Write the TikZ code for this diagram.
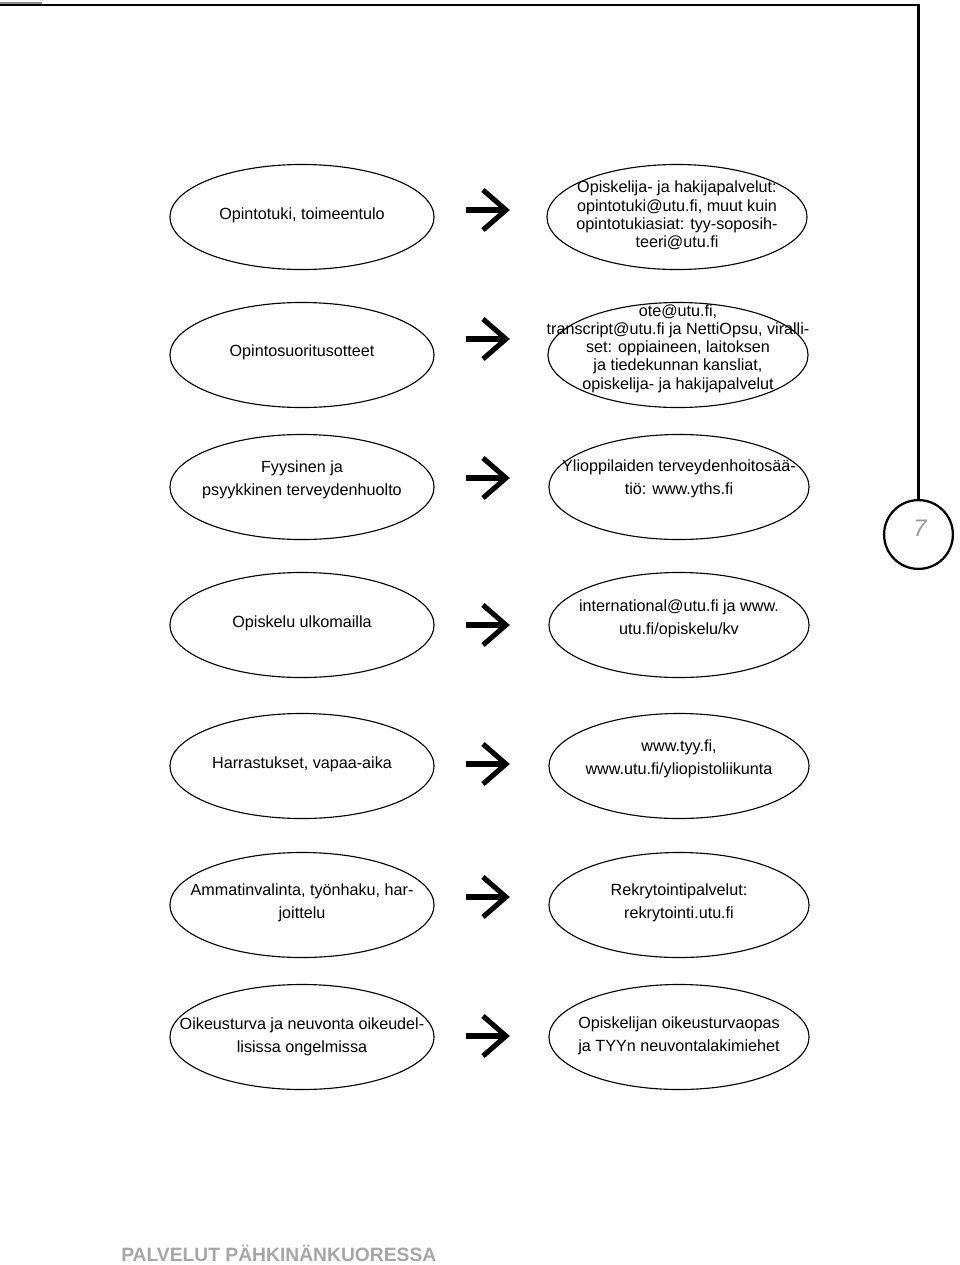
\documentclass[tikz,border=0pt]{standalone}
\usepackage{fontspec}
\setmainfont{Liberation Sans}
\usetikzlibrary{positioning,arrows.meta,shapes.geometric}

\tikzset{
  oval/.style={draw, ellipse, line width=0.8pt, inner sep=0pt,
    minimum width=6.6cm, minimum height=2.625cm},
  ovalr/.style={oval, minimum width=6.5cm},
  txt/.style={align=center, font=\fontsize{11.5}{16}\selectfont},
  txttight/.style={align=center, font=\fontsize{11.5}{13}\selectfont},
  pilvarsi/.style={line width=4.4pt},
  pilkarki/.style={line width=3.6pt, miter limit=10},
}

\begin{document}
\begin{tikzpicture}[x=0.025cm, y=-0.025cm]
  \useasboundingbox (0,0) rectangle (960,1265);
  % frame and page number
  \draw[black!45, line width=2pt] (0,3) -- (42,3);
  \coordinate (hjorne) at (0,5);
  \node[circle, draw, line width=1.6pt, minimum size=1.72cm, inner sep=0pt]
    (sivu) at (918.5,534.5) {};
  \draw[line width=1.5pt] (hjorne) -| (sivu);
  \node[text=black!40, font=\fontsize{17}{17}\selectfont\itshape] (nro)
    at (920,528) {7};
  % row 1
  \node[oval] (v1) at (302,217) {};
  \node[txt] (v1t) at (302,215) {Opintotuki, toimeentulo};
  \node[ovalr] (o1) at (677,217) {};
  \node[txttight] (o1t) at (677,215.5) {Opiskelija- ja hakijapalvelut:\\
    opintotuki@utu.fi, muut kuin\\ opintotukiasiat: tyy-soposih-\\ teeri@utu.fi};
  % row 2
  \node[oval] (v2) at (302,355) {};
  \node[txt] (v2t) at (302,352) {Opintosuoritusotteet};
  \node[ovalr] (o2) at (678,355) {};
  \node[txttight] (o2t) at (678,348.5) {ote@utu.fi,\\
    transcript@utu.fi ja NettiOpsu, viralli-\\ set: oppiaineen, laitoksen\\
    ja tiedekunnan kansliat,\\ opiskelija- ja hakijapalvelut};
  % row 3
  \node[oval] (v3) at (302,487) {};
  \node[txt] (v3t) at (302,480) {Fyysinen ja\\ psyykkinen terveydenhuolto};
  \node[ovalr] (o3) at (679,487) {};
  \node[txt] (o3t) at (679,479) {Ylioppilaiden terveydenhoitosää-\\ tiö: www.yths.fi};
  % row 4
  \node[oval] (v4) at (302,625) {};
  \node[txt] (v4t) at (302,623) {Opiskelu ulkomailla};
  \node[ovalr] (o4) at (679,625) {};
  \node[txt] (o4t) at (679,619) {international@utu.fi ja www.\\ utu.fi/opiskelu/kv};
  % row 5
  \node[oval] (v5) at (302,766) {};
  \node[txt] (v5t) at (302,764) {Harrastukset, vapaa-aika};
  \node[ovalr] (o5) at (679,766) {};
  \node[txt] (o5t) at (679,759) {www.tyy.fi,\\ www.utu.fi/yliopistoliikunta};
  % row 6
  \node[oval] (v6) at (302,905) {};
  \node[txt] (v6t) at (302,903) {Ammatinvalinta, työnhaku, har-\\ joittelu};
  \node[ovalr] (o6) at (679,905) {};
  \node[txt] (o6t) at (679,903) {Rekrytointipalvelut:\\ rekrytointi.utu.fi};
  % row 7
  \node[oval] (v7) at (302,1037) {};
  \node[txt] (v7t) at (302,1037) {Oikeusturva ja neuvonta oikeudel-\\ lisissa ongelmissa};
  \node[ovalr] (o7) at (679,1037) {};
  \node[txt] (o7t) at (679,1036) {Opiskelijan oikeusturvaopas\\ ja TYYn neuvontalakimiehet};
  % arrows
  \foreach \y [count=\i] in {210,339,478,625,764,897,1036} {
    \coordinate (a\i) at (466,\y);
    \coordinate (b\i) at (506,\y);
    \draw[pilvarsi] (a\i) -- (b\i);
    \draw[pilkarki] (b\i) ++(-23,-20) -- (b\i) -- ++(-23,20);
  }
  % footer
  \node[anchor=base west, inner sep=0pt, text=black!35,
    font=\bfseries\fontsize{13.7}{14}\selectfont] (otsikko) at (121,1261)
    {PALVELUT PÄHKINÄNKUORESSA};
\end{tikzpicture}
\end{document}
